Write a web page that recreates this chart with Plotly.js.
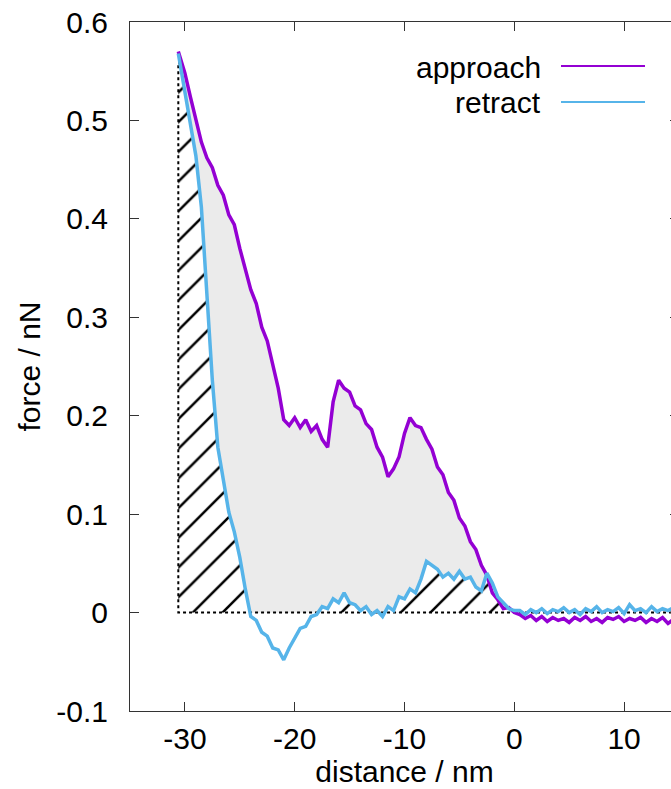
<!DOCTYPE html>
<html>
<head>
<meta charset="utf-8">
<script src="https://cdn.plot.ly/plotly-3.0.1.min.js"></script>
<style>
html,body{margin:0;padding:0;overflow:hidden;background:#fff;}
#chart{width:690px;height:789px;}
</style>
</head>
<body>
<div id="chart"></div>
<script>
// distance (nm)
const distance = [-30.6,
  -30.0,-29.5,-29.0,-28.5,-28.0,-27.5,-27.0,-26.5,-26.0,-25.5,
  -25.0,-24.5,-24.0,-23.5,-23.0,-22.5,-22.0,-21.5,-21.0,-20.5,
  -20.0,-19.5,-19.0,-18.5,-18.0,-17.5,-17.0,-16.5,-16.0,-15.5,
  -15.0,-14.5,-14.0,-13.5,-13.0,-12.5,-12.0,-11.5,-11.0,-10.5,
  -10.0,-9.5,-9.0,-8.5,-8.0,-7.5,-7.0,-6.5,-6.0,-5.5,
  -5.0,-4.5,-4.0,-3.5,-3.0,-2.5,-2.0,-1.5,-1.0,-0.5,
  0.0,0.5,1.0,1.5,2.0,2.5,3.0,3.5,4.0,4.5,
  5.0,5.5,6.0,6.5,7.0,7.5,8.0,8.5,9.0,9.5,
  10.0,10.5,11.0,11.5,12.0,12.5,13.0,13.5,14.0,14.5,15.0];

// approach force (nN)
const approach = [0.570,
  0.548,0.524,0.500,0.478,0.462,0.452,0.434,0.424,0.404,0.394,
  0.370,0.350,0.328,0.314,0.290,0.276,0.250,0.228,0.196,0.190,
  0.198,0.188,0.196,0.184,0.190,0.176,0.168,0.214,0.236,0.228,
  0.224,0.210,0.206,0.192,0.186,0.168,0.158,0.138,0.146,0.158,
  0.182,0.198,0.190,0.188,0.176,0.166,0.148,0.140,0.122,0.114,
  0.096,0.088,0.072,0.064,0.048,0.038,0.020,0.013,0.004,0.005,
  0.000,-0.002,-0.006,-0.003,-0.008,-0.004,-0.009,-0.005,-0.008,-0.006,
  -0.010,-0.005,-0.008,-0.004,-0.009,-0.006,-0.010,-0.005,-0.007,-0.004,
  -0.009,-0.006,-0.008,-0.005,-0.010,-0.006,-0.009,-0.005,-0.011,-0.007,-0.010];

// retract force (nN)
const retract = [0.568,
  0.530,0.498,0.464,0.412,0.318,0.236,0.168,0.134,0.102,0.082,
  0.056,0.024,-0.004,-0.008,-0.020,-0.024,-0.036,-0.038,-0.048,-0.036,
  -0.026,-0.016,-0.014,-0.004,-0.002,0.006,0.004,0.014,0.010,0.020,
  0.010,0.008,0.002,0.006,-0.002,0.002,-0.004,0.006,0.002,0.016,
  0.014,0.024,0.020,0.034,0.052,0.048,0.044,0.036,0.040,0.034,
  0.042,0.034,0.036,0.026,0.022,0.040,0.030,0.016,0.010,0.004,
  0.002,0.002,-0.002,0.003,0.000,0.004,-0.001,0.003,0.001,0.005,
  0.000,0.003,-0.002,0.004,0.001,0.006,0.000,0.003,0.001,0.005,
  -0.001,0.008,0.002,0.004,0.000,0.006,0.001,0.004,0.002,0.005,0.001];

const xTickVals = [-30,-20,-10,0,10];
const xTickText = ['-30','-20','-10','0','10'];
const yTickVals = [-0.1,0,0.1,0.2,0.3,0.4,0.5,0.6];
const yTickText = ['-0.1','0','0.1','0.2','0.3','0.4','0.5','0.6'];
const seriesNames = ['approach','retract'];
const colors = {approach:'#9400d3', retract:'#56b4e9'};

// region indices
const iCross = distance.findIndex((d,i)=> d > -5 && approach[i] <= retract[i]);
const iZero = distance.indexOf(0.0);
const xMax = 15;

const lowerCross = distance.slice(0,iCross+1).map((d,i)=>Math.max(retract[i],0));
const hatchY = distance.slice(0,iZero+1).map((d,i)=>Math.max(retract[i],0));

const FONT = 'Liberation Sans, Arial, Helvetica, sans-serif';
const FS = 30;

const traces = [
  { // hatched work area
    x: distance.slice(0,iZero+1), y: hatchY, mode:'lines', fill:'tozeroy',
    line:{width:0,color:'rgba(0,0,0,0)'}, fillcolor:'#ffffff',
    fillpattern:{shape:'/', fgcolor:'#000000', bgcolor:'#ffffff', size:21, solidity:0.12},
    hoverinfo:'skip', showlegend:false
  },
  { // lower boundary of grey area
    x: distance.slice(0,iCross+1), y: lowerCross, mode:'lines',
    line:{width:0,color:'rgba(0,0,0,0)'}, hoverinfo:'skip', showlegend:false
  },
  { // grey hysteresis area
    x: distance.slice(0,iCross+1), y: approach.slice(0,iCross+1), mode:'lines',
    fill:'tonexty', fillcolor:'#ebebeb',
    line:{width:0,color:'rgba(0,0,0,0)'}, hoverinfo:'skip', showlegend:false
  },
  { // dotted outline
    x: [distance[0], distance[0], xMax], y: [retract[0]-0.012, 0, 0], mode:'lines',
    line:{color:'#000', width:2, dash:'dot'}, hoverinfo:'skip', showlegend:false
  },
  {
    x: distance, y: approach, mode:'lines', name: seriesNames[0],
    line:{color:colors.approach, width:3.5}, showlegend:false
  },
  {
    x: distance, y: retract, mode:'lines', name: seriesNames[1],
    line:{color:colors.retract, width:3.5}, showlegend:false
  }
];

// plot area pixel geometry helpers for the legend
const L = 130, R = 11, T = 22, B = 78, W = 690, H = 789;
const pw = W - L - R, ph = H - T - B;
const px = v => (v - L) / pw;
const py = v => (H - B - v) / ph;

const axisCommon = {
  showline:true, linecolor:'#333', linewidth:1, mirror:'ticks',
  ticks:'inside', ticklen:9, tickcolor:'#333', tickwidth:1,
  showgrid:false, zeroline:false,
  tickfont:{family:FONT, size:FS, color:'#000'}
};

const layout = {
  width:W, height:H,
  margin:{l:L, r:R, t:T, b:B},
  paper_bgcolor:'#fff', plot_bgcolor:'#fff',
  showlegend:false,
  xaxis: Object.assign({}, axisCommon, {
    range:[-35,15], tickmode:'array', tickvals:xTickVals, ticktext:xTickText,
    ticklabelstandoff:1,
    title:{text:'distance / nm', font:{family:FONT, size:FS, color:'#000'}, standoff:0}
  }),
  yaxis: Object.assign({}, axisCommon, {
    range:[-0.1,0.6], tickmode:'array', tickvals:yTickVals, ticktext:yTickText,
    ticklabelstandoff:15,
    title:{text:'force / nN', font:{family:FONT, size:FS, color:'#000'}, standoff:6}
  }),
  annotations: [
    {xref:'paper', yref:'paper', x:px(543), y:py(68), xanchor:'right', yanchor:'middle',
     text:seriesNames[0], showarrow:false, font:{family:FONT, size:FS, color:'#000'}},
    {xref:'paper', yref:'paper', x:px(543), y:py(102), xanchor:'right', yanchor:'middle',
     text:seriesNames[1], showarrow:false, font:{family:FONT, size:FS, color:'#000'}}
  ],
  shapes: [
    {type:'line', xref:'paper', yref:'paper', x0:px(561), x1:px(645), y0:py(66), y1:py(66),
     line:{color:colors.approach, width:2}},
    {type:'line', xref:'paper', yref:'paper', x0:px(561), x1:px(645), y0:py(102), y1:py(102),
     line:{color:colors.retract, width:2}}
  ]
};

Plotly.newPlot('chart', traces, layout, {displayModeBar:false, staticPlot:true});
</script>
</body>
</html>
